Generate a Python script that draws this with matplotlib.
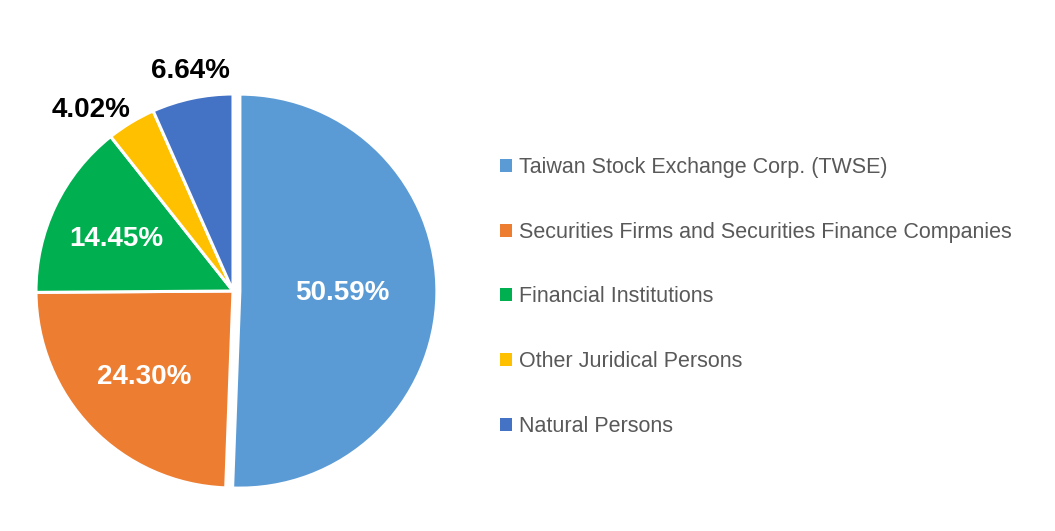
import matplotlib
matplotlib.use("Agg")
import matplotlib.pyplot as plt
from matplotlib.patches import Patch
import numpy as np

plt.rcParams["font.family"] = ["Liberation Sans", "DejaVu Sans"]

categories = [
    "Taiwan Stock Exchange Corp. (TWSE)",
    "Securities Firms and Securities Finance Companies",
    "Financial Institutions",
    "Other Juridical Persons",
    "Natural Persons",
]
shares = [50.59, 24.30, 14.45, 4.02, 6.64]
colors = ["#5B9BD5", "#ED7D31", "#00B050", "#FFC000", "#4472C4"]
explode = [0.035, 0, 0, 0, 0]

# label placement per slice: distance (radius units), text colour, angle shift
label_dist = [0.52, 0.63, 0.65, 1.17, 1.14]
label_color = ["white", "white", "white", "black", "black"]
label_shift = [0, 0, 1.5, 7, -1]

W, H = 1055, 531
fig = plt.figure(figsize=(W / 100, H / 100), dpi=100)

cx, cy, r = 233, 291, 197
L = 1.15
size = 2 * L * r
ax = fig.add_axes([(cx - size / 2) / W, (H - cy - size / 2) / H, size / W, size / H])

wedges, _ = ax.pie(
    shares,
    colors=colors,
    startangle=90,
    counterclock=False,
    explode=explode,
    radius=1,
    wedgeprops=dict(edgecolor="white", linewidth=2.2),
)
# pie() sets its own limits, so fix them afterwards
ax.set_xlim(-L, L)
ax.set_ylim(-L, L)
ax.set_aspect("equal")
ax.axis("off")

for w, val, d, c, s, e in zip(wedges, shares, label_dist, label_color, label_shift, explode):
    mid = np.deg2rad((w.theta1 + w.theta2) / 2 + s)
    x = (d + e) * np.cos(mid)
    y = (d + e) * np.sin(mid)
    ax.text(x, y, f"{val:.2f}%", ha="center", va="center",
            fontsize=20, fontweight="bold", color=c)

handles = [Patch(facecolor=c, edgecolor="none") for c in colors]
fig.legend(
    handles,
    categories,
    loc="upper left",
    bbox_to_anchor=(500 / W, 1 - 157 / H),
    frameon=False,
    fontsize=15.5,
    labelcolor="#595959",
    handlelength=0.55,
    handleheight=0.55,
    handletextpad=0.35,
    labelspacing=2.03,
    borderaxespad=0,
    borderpad=0,
)

fig.savefig("out.png", dpi=100, facecolor="white")
